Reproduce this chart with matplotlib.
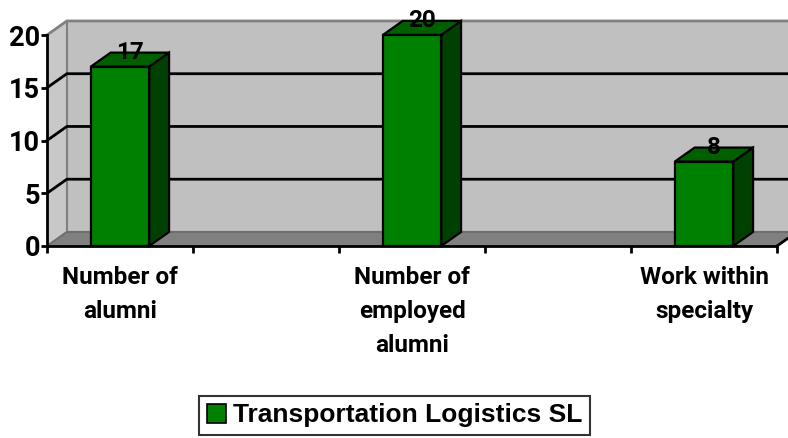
import matplotlib
matplotlib.use("Agg")
import matplotlib.pyplot as plt
from matplotlib.patches import Polygon, Patch

# ---- data ----
categories = ["Number of\nalumni", "Number of\nemployed\nalumni", "Work within\nspecialty"]
values = [17, 20, 8]
series_name = "Transportation Logistics SL"
y_ticks = [0, 5, 10, 15, 20]

# ---- style ----
FRONT = "#008000"
SIDE = "#004000"
TOP = "#006000"
WALL = "#C0C0C0"
SIDEWALL = "#C8C8C8"
FLOOR = "#808080"
EDGE = "#808080"
DX, DY = 0.068, 1.33      # depth offset in data units
HALF_W = 0.1
XMIN, XMAX = -0.25, 2.25
YMAX = 20
FONT = "Roboto"

fig = plt.figure(figsize=(7.88, 4.38), dpi=100)
ax = fig.add_axes([47/788, (438-246)/438, 730/788, 211/438])
ax.set_xlim(XMIN, XMAX)
ax.set_ylim(0, YMAX)
ax.patch.set_visible(False)

def poly(pts, fc, ec="none", lw=0, z=1):
    ax.add_patch(Polygon(pts, closed=True, facecolor=fc, edgecolor=ec,
                         linewidth=lw, zorder=z, clip_on=False, joinstyle="miter"))

# back wall
poly([(XMIN+DX, DY), (XMAX+DX+0.2, DY), (XMAX+DX+0.2, YMAX+DY), (XMIN+DX, YMAX+DY)], WALL, z=0.5)
# left side wall
poly([(XMIN, 0), (XMIN+DX, DY), (XMIN+DX, YMAX+DY), (XMIN, YMAX)], SIDEWALL, z=0.6)
# floor
poly([(XMIN, 0), (XMAX, 0), (XMAX+DX, DY), (XMIN+DX, DY)], FLOOR, z=0.7)

# wall edges
ax.plot([XMIN+DX, XMIN+DX], [DY, YMAX+DY], color=EDGE, lw=1.5, zorder=0.8, clip_on=False)
ax.plot([XMIN, XMIN+DX, XMAX+DX+0.2], [YMAX, YMAX+DY, YMAX+DY], color=EDGE, lw=2, zorder=0.8, clip_on=False)
ax.plot([XMIN, XMIN+DX, XMAX+DX+0.2], [0, DY, DY], color="#6E6E6E", lw=1.5, zorder=0.8, clip_on=False)

# gridlines
for g in y_ticks[1:-1]:
    ax.plot([XMIN, XMIN+DX, XMAX+DX+0.2], [g, g+DY, g+DY], color="black", lw=2, zorder=0.9, clip_on=False)

# floor right edge
ax.plot([XMAX, XMAX+DX], [0, DY], color="black", lw=2, zorder=3, clip_on=False)

# bars
for i, v in enumerate(values):
    x0, x1 = i - HALF_W, i + HALF_W
    poly([(x1, 0), (x1+DX, DY), (x1+DX, v+DY), (x1, v)], SIDE, "black", 1.6, z=4)
    poly([(x0, v), (x1, v), (x1+DX, v+DY), (x0+DX, v+DY)], TOP, "black", 1.6, z=4)
    poly([(x0, 0), (x1, 0), (x1, v), (x0, v)], FRONT, "black", 1.6, z=4.1)
    ax.text(i + DX/2, v + DY, str(v), ha="center", va="center", fontsize=17.5,
            fontweight="bold", family=FONT, zorder=5)

# axes / ticks
for s in ["top", "right"]:
    ax.spines[s].set_visible(False)
ax.spines["left"].set_linewidth(2)
ax.spines["bottom"].set_linewidth(2)
ax.spines["left"].set_zorder(3)
ax.spines["bottom"].set_zorder(3)
ax.set_yticks(y_ticks)
ax.set_yticklabels([str(t) for t in y_ticks], fontsize=19.5, fontweight="bold", family=FONT)
ax.tick_params(axis="y", direction="out", length=4, width=2, pad=1)
ax.set_xticks([XMIN + 0.5*k for k in range(6)])
ax.set_xticklabels([])
ax.tick_params(axis="x", direction="out", length=5, width=2)

for i, c in enumerate(categories):
    ax.annotate(c, xy=(i, 0), xytext=(0, -20), textcoords="offset pixels",
                ha="center", va="top", fontsize=17.5, fontweight="bold",
                family=FONT, linespacing=1.62, annotation_clip=False)

handle = Patch(facecolor=FRONT, edgecolor="black", linewidth=1.2)
leg = fig.legend([handle], [series_name], loc="center", bbox_to_anchor=(0.5007, 0.0514),
                 prop={"family": "Liberation Sans", "weight": "bold", "size": 19},
                 frameon=True, fancybox=False, handlelength=0.75, handleheight=0.75,
                 handletextpad=0.25, borderpad=0.3, edgecolor="black")
leg.get_frame().set_linewidth(1.5)

fig.savefig("out.png", dpi=100)
